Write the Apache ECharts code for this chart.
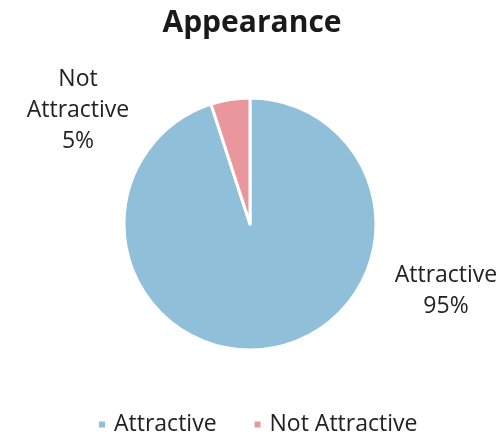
<!DOCTYPE html>
<html><head><meta charset="utf-8">
<script src="https://cdn.jsdelivr.net/npm/echarts@6/dist/echarts.min.js"></script>
<style>html,body{margin:0;padding:0;background:#fff}#c{width:504px;height:435px}</style>
</head><body><div id="c"></div>
<script>
const categories = ["Attractive", "Not Attractive"];
const values = [95, 5];
const colors = ["#90BFD9", "#E9979D"];
const labelPos = [[446, 291], [78, 110]];

const chart = echarts.init(document.getElementById('c'), null, {renderer: 'canvas'});
chart.setOption({
  animation: false,
  title: {
    text: "Appearance", left: 'center', top: 3,
    textStyle: {fontFamily: "Open Sans", fontWeight: 'bold', fontSize: 30, color: '#1a1a1a'}
  },
  legend: {
    top: 408, left: 92, padding: 5, itemWidth: 8, itemHeight: 8, itemGap: 36, icon: 'rect',
    textStyle: {fontFamily: "Open Sans", fontSize: 23, color: '#222', padding: [0, 0, 0, 3]},
    data: categories
  },
  series: [{
    type: 'pie', center: [250, 224], radius: [0, 126], startAngle: 90, clockwise: true,
    itemStyle: {borderColor: '#fff', borderWidth: 3},
    label: {
      show: true, position: 'outside',
      formatter: p => p.name.replace(' ', '\n') + '\n' + p.value + '%',
      fontFamily: "Open Sans", fontSize: 23, lineHeight: 31, color: '#222', align: 'center'
    },
    labelLine: {show: false},
    labelLayout: p => ({x: labelPos[p.dataIndex][0], y: labelPos[p.dataIndex][1], align: 'center', verticalAlign: 'middle'}),
    data: categories.map((n, i) => ({name: n, value: values[i], itemStyle: {color: colors[i]}}))
  }]
});
</script></body></html>
